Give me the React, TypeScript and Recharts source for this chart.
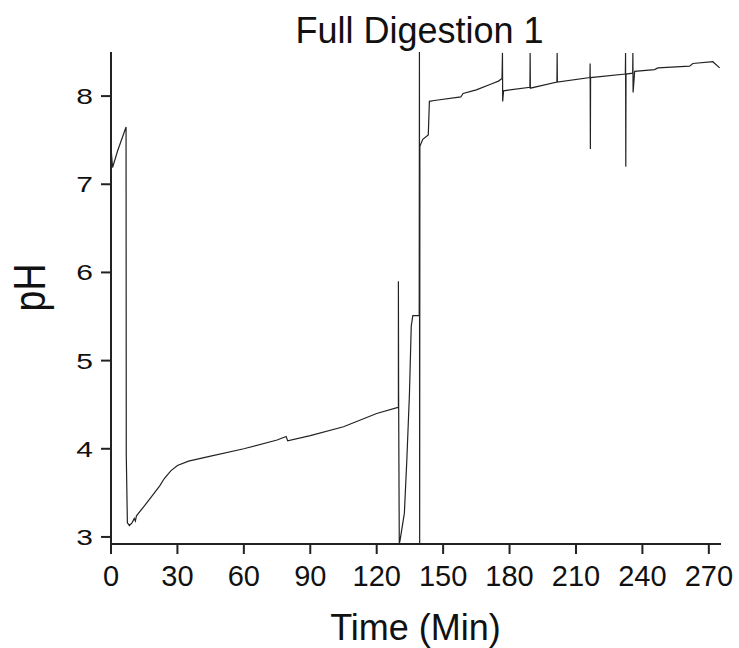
import React from 'react';
import { LineChart, Line, XAxis, YAxis } from 'recharts';

// start of run: probe settles, then acid is added (~7 min)
const startTime = [0.2, 0.7, 3, 6.8, 6.9, 7.4, 8.3, 9.5, 10.5, 11, 11.5, 15, 19, 22, 24, 27, 30, 35, 44];
const startPh = [7.35, 7.19, 7.38, 7.65, 3.93, 3.16, 3.13, 3.16, 3.21, 3.18, 3.24, 3.35, 3.48, 3.58, 3.66, 3.75, 3.81, 3.86, 3.91];

// slow drift during the acid stage
const acidTime = [60, 75, 79.1, 79.8, 90, 105, 120, 129.6];
const acidPh = [4.0, 4.1, 4.14, 4.09, 4.15, 4.25, 4.4, 4.47];

// base addition, probe spikes around 130-140 min
const switchTime = [129.8, 129.8, 129.9, 130.2, 130.6, 132.5, 133.6, 134.8, 135.6, 136.3, 139.2, 139.3, 139.4, 139.5, 139.5, 140.8, 143.3, 143.8, 146];
const switchPh = [4.47, 5.9, 4.6, 2.92, 2.97, 3.27, 3.87, 4.63, 5.39, 5.51, 5.51, 8.5, 2.92, 7.0, 7.43, 7.51, 7.56, 7.94, 7.95];

// alkaline stage with sampling spikes
const baseTime = [158, 159, 165, 172, 175, 176.6, 176.8, 176.9, 177.3, 189.2, 189.3, 189.4, 201.4, 201.5, 201.6, 216.3, 216.4, 216.5, 216.6, 232.3, 232.4, 232.5, 232.6, 235.6, 235.7, 235.8, 236.5, 245.5, 247, 261.3, 262.8, 271.8, 274.9];
const basePh = [7.99, 8.03, 8.07, 8.14, 8.17, 8.2, 8.49, 7.94, 8.06, 8.1, 8.49, 8.09, 8.16, 8.49, 8.16, 8.21, 8.37, 7.4, 8.21, 8.25, 8.49, 7.2, 8.25, 8.26, 8.49, 8.04, 8.28, 8.3, 8.32, 8.34, 8.37, 8.39, 8.32];

const xTicks = [0, 30, 60, 90, 120, 150, 180, 210, 240, 270];
const yTicks = [3, 4, 5, 6, 7, 8];

const times = [...startTime, ...acidTime, ...switchTime, ...baseTime];
const phs = [...startPh, ...acidPh, ...switchPh, ...basePh];
const data = times.map((t, i) => ({ t, ph: phs[i] }));

const FONT = '"Liberation Sans", Arial, sans-serif';

// y labels in the original look squashed vertically
const YTick = (props: any) => {
  const { x, y, payload } = props;
  return (
    <g transform={`translate(${x},${y}) scale(1,0.75)`}>
      <text x={0} y={0} dy="0.355em" textAnchor="end" fontSize={30} fontFamily={FONT} fill="#111">
        {payload.value}
      </text>
    </g>
  );
};

export default function App() {
  return (
    <div style={{ position: 'absolute', left: 0, top: 0, width: 739, height: 648, background: '#fff' }}>
      <LineChart width={739} height={648} data={data} margin={{ top: 52, right: 18, left: 51, bottom: 64 }}>
        <XAxis
          dataKey="t"
          type="number"
          domain={[0, 275.5]}
          ticks={xTicks}
          allowDataOverflow
          height={40}
          tickSize={10}
          tickMargin={11}
          axisLine={{ stroke: '#222', strokeWidth: 2 }}
          tickLine={{ stroke: '#222', strokeWidth: 2 }}
          tick={{ fontSize: 29, fontFamily: FONT, fill: '#111' }}
        />
        <YAxis
          type="number"
          domain={[2.92, 8.5]}
          ticks={yTicks}
          allowDataOverflow
          width={60}
          tickSize={10}
          tickMargin={8}
          axisLine={{ stroke: '#222', strokeWidth: 2 }}
          tickLine={{ stroke: '#222', strokeWidth: 2 }}
          tick={<YTick />}
        />
        <Line
          type="linear"
          dataKey="ph"
          stroke="#222"
          strokeWidth={1.2}
          dot={false}
          isAnimationActive={false}
        />
      </LineChart>
      <svg width={739} height={648} style={{ position: 'absolute', left: 0, top: 0, pointerEvents: 'none' }}>
        <text x={419.5} y={42.7} textAnchor="middle" fontSize={36} fontFamily={FONT} fill="#111">
          Full Digestion 1
        </text>
        <text x={415.5} y={640} textAnchor="middle" fontSize={36} fontFamily={FONT} fill="#111">
          Time (Min)
        </text>
        <g transform="translate(45,287.5) rotate(-90) scale(0.85,1)">
          <text x={0} y={0} textAnchor="middle" fontSize={44} fontFamily={FONT} fill="#111">
            pH
          </text>
        </g>
      </svg>
    </div>
  );
}
